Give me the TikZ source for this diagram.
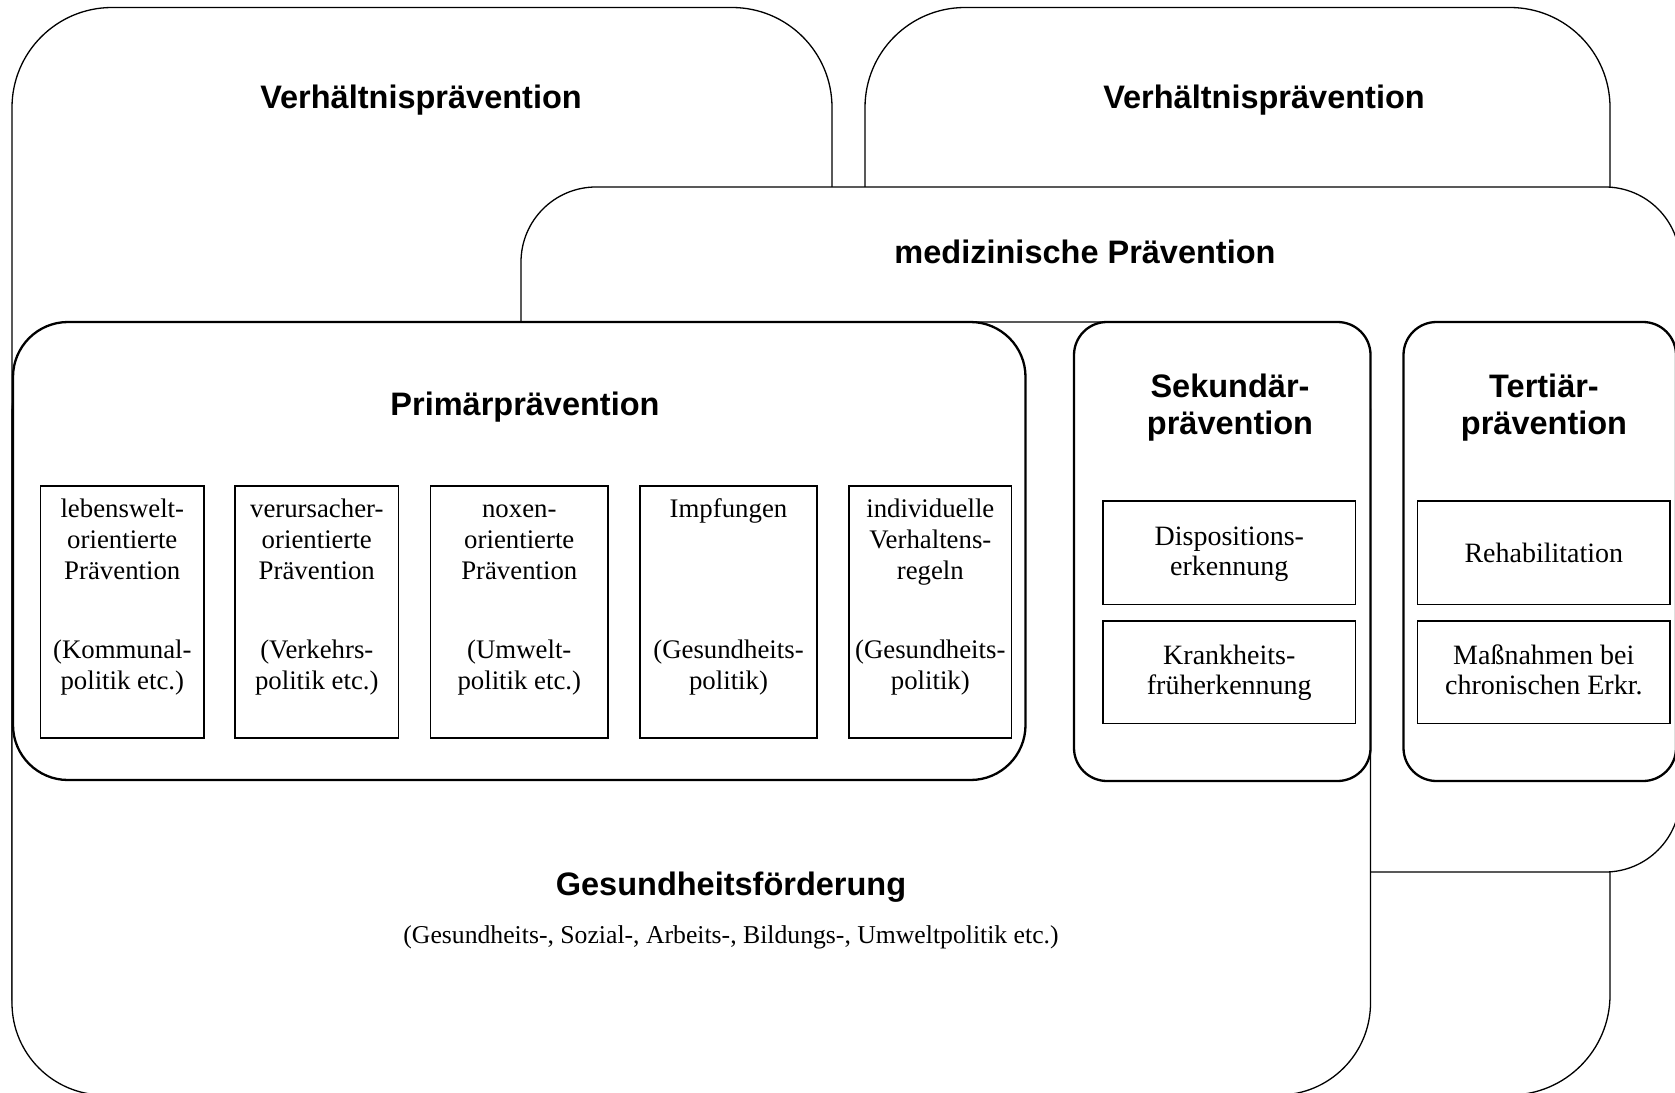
\documentclass[tikz,border=0pt]{standalone}
\usepackage{fontspec}
\setmainfont{Liberation Serif}
\setsansfont{Liberation Sans}
\newcommand\mlines[1]{\begin{tabular}[t]{@{}c@{}}#1\end{tabular}}
\begin{document}
\begin{tikzpicture}[x=1pt,y=-1pt,
  outer/.style={draw=black, fill=white, line width=1.3pt},
  group/.style={draw=black, fill=white, line width=2.3pt},
  item/.style={draw=black, fill=white, line width=1.5pt},
  head/.style={font=\sffamily\bfseries\fontsize{32.5}{36.5}\selectfont, anchor=base, inner sep=0pt},
  body/.style={font=\fontsize{26.8}{31}\selectfont, anchor=base, inner sep=0pt},
  bodyr/.style={font=\fontsize{28}{30.5}\selectfont, anchor=base, inner sep=0pt},
  subt/.style={font=\fontsize{25.7}{30}\selectfont, anchor=base, inner sep=0pt}]
\useasboundingbox (0,0) rectangle (1675,1092);
\clip (0,0) rectangle (1675,1092);
% big regions (order matters)
\draw[outer, rounded corners=100pt] (12,7.5) rectangle (832,1095);
\draw[outer, rounded corners=100pt] (865,7.5) rectangle (1610,1095);
\draw[outer, rounded corners=75pt] (521,187) rectangle (1680,872);
\draw[outer, rounded corners=92pt] (12,322) rectangle (1370.5,1095);
% groups
\draw[group, rounded corners=55pt] (13,322) rectangle (1025.5,780);
\draw[group, rounded corners=33pt] (1074,322) rectangle (1370.5,781);
\draw[group, rounded corners=33pt] (1403.5,322) rectangle (1676,781);
% items
\draw[item] (40.6,486) rectangle (204,738);
\draw[item] (235,486) rectangle (398.5,738);
\draw[item] (430.5,486) rectangle (608,738);
\draw[item] (640,486) rectangle (817,738);
\draw[item] (849,486) rectangle (1011.5,738);
\draw[item] (1103,501) rectangle (1355.5,604.5);
\draw[item] (1103,621) rectangle (1355.5,723.5);
\draw[item] (1417.5,501) rectangle (1670,604.5);
\draw[item] (1417.5,621) rectangle (1670,723.5);
% headings
\node[head] (hA) at (421,108) {Verhältnisprävention};
\node[head] (hB) at (1264,108) {Verhältnisprävention};
\node[head] (hM) at (1085,263.5) {medizinische Prävention};
\node[head] (hP) at (525,415.5) {Primärprävention};
\node[head] (hS) at (1230,397.5) {\mlines{Sekundär-\\prävention}};
\node[head] (hT) at (1544,397.5) {\mlines{Tertiär-\\prävention}};
\node[head] (hG) at (731,895.5) {Gesundheitsförderung};
\node[subt] (sG) at (731,943) {(Gesundheits-, Sozial-, Arbeits-, Bildungs-, Umweltpolitik etc.)};
% primary items text
\node[body] (a1) at (122.3,517) {\mlines{lebenswelt-\\orientierte\\Prävention}};
\node[body] (b1) at (122.3,658) {\mlines{(Kommunal-\\politik etc.)}};
\node[body] (a2) at (316.8,517) {\mlines{verursacher-\\orientierte\\Prävention}};
\node[body] (b2) at (316.8,658) {\mlines{(Verkehrs-\\politik etc.)}};
\node[body] (a3) at (519.3,517) {\mlines{noxen-\\orientierte\\Prävention}};
\node[body] (b3) at (519.3,658) {\mlines{(Umwelt-\\politik etc.)}};
\node[body] (a4) at (728.5,517) {Impfungen};
\node[body] (b4) at (728.5,658) {\mlines{(Gesundheits-\\politik)}};
\node[body] (a5) at (930.3,517) {\mlines{individuelle\\Verhaltens-\\regeln}};
\node[body] (b5) at (930.3,658) {\mlines{(Gesundheits-\\politik)}};
% secondary / tertiary items text
\node[bodyr] (s1t) at (1229.3,545) {\mlines{Dispositions-\\erkennung}};
\node[bodyr] (s2t) at (1229.3,664) {\mlines{Krankheits-\\früherkennung}};
\node[bodyr] (t1t) at (1543.8,562) {Rehabilitation};
\node[bodyr] (t2t) at (1543.8,664) {\mlines{Maßnahmen bei\\chronischen Erkr.}};
\end{tikzpicture}
\end{document}
